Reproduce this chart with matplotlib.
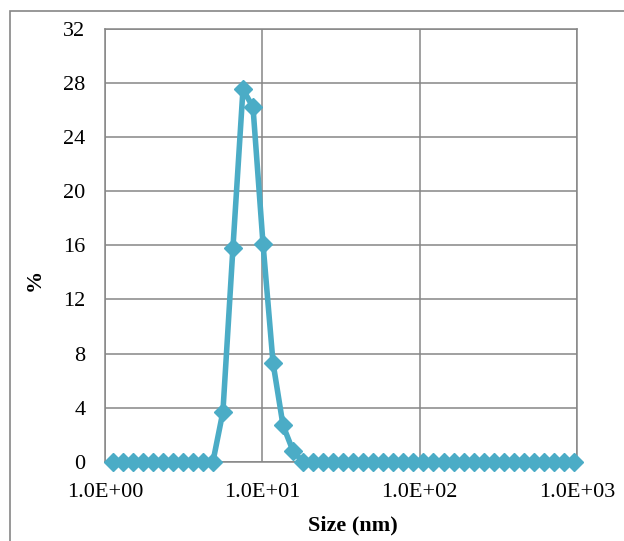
import matplotlib
matplotlib.use("Agg")
import matplotlib.pyplot as plt
from matplotlib.patches import Rectangle
from matplotlib.ticker import FixedLocator, NullLocator

# Particle size bins (nm), log-spaced from ~1 nm to ~1000 nm
sizes_nm = [
    1.117, 1.294, 1.499, 1.736, 2.010, 2.328, 2.696, 3.122, 3.615, 4.187,
    4.849, 5.615, 6.503, 7.531, 8.721, 10.10, 11.70, 13.54, 15.69, 18.17,
    21.04, 24.36, 28.21, 32.67, 37.84, 43.82, 50.75, 58.77, 68.06, 78.82,
    91.28, 105.7, 122.4, 141.8, 164.2, 190.1, 220.2, 255.0, 295.3, 342.0,
    396.1, 458.7, 531.2, 615.1, 712.4, 825.0, 955.4,
]
# Percentage in each bin
percent = [
    0, 0, 0, 0, 0, 0, 0, 0, 0, 0,
    0, 3.7, 15.8, 27.5, 26.2, 16.1, 7.3, 2.7, 0.8, 0,
    0, 0, 0, 0, 0, 0, 0, 0, 0, 0,
    0, 0, 0, 0, 0, 0, 0, 0, 0, 0,
    0, 0, 0, 0, 0, 0, 0,
]

x_ticks = [1, 10, 100, 1000]
x_tick_labels = ["1.0E+00", "1.0E+01", "1.0E+02", "1.0E+03"]
y_ticks = [0, 4, 8, 12, 16, 20, 24, 28, 32]

W, H = 624, 541
fig = plt.figure(figsize=(W / 100, H / 100), dpi=100)

grid_c = "#868686"
line_c = "#4BACC6"
serif = ["Liberation Serif", "DejaVu Serif"]

# outer chart frame (runs off the right and bottom edges)
fig.patches.append(Rectangle((9.5 / W, -0.1), 2.0, (H - 10.5) / H + 0.1,
                             transform=fig.transFigure, fill=False,
                             edgecolor=grid_c, linewidth=1.2))

left, right, top, bottom = 105, 577, 28.5, 462
ax = fig.add_axes([left / W, 1 - bottom / H, (right - left) / W, (bottom - top) / H])

ax.set_xscale("log")
ax.set_xlim(1, 1000)
ax.set_ylim(0, 32)

ax.plot(sizes_nm, percent, color=line_c, linewidth=4, marker="D",
        markersize=9.5, markeredgewidth=1, markeredgecolor=line_c,
        markerfacecolor=line_c, clip_on=False, zorder=5,
        solid_joinstyle="round")

ax.xaxis.set_major_locator(FixedLocator(x_ticks))
ax.xaxis.set_minor_locator(NullLocator())
ax.set_xticklabels(x_tick_labels)
ax.set_yticks(y_ticks)

ax.grid(True, color=grid_c, linewidth=1.1)
ax.set_axisbelow(True)
for s in ax.spines.values():
    s.set_color(grid_c)
    s.set_linewidth(1.1)

ax.tick_params(axis="both", length=0, labelsize=16, colors="black")
ax.tick_params(axis="y", pad=14)
ax.tick_params(axis="x", pad=15)
for lab in ax.get_xticklabels() + ax.get_yticklabels():
    lab.set_family(serif)

fig.text(353 / W, 1 - 525 / H, "Size (nm)", ha="center", va="center",
         fontsize=16, fontweight="bold", family=serif)
fig.text(35 / W, 1 - 280 / H, "%", ha="center", va="center", rotation=90,
         fontsize=16, fontweight="bold", family=serif)

fig.savefig("out.png", dpi=100)
